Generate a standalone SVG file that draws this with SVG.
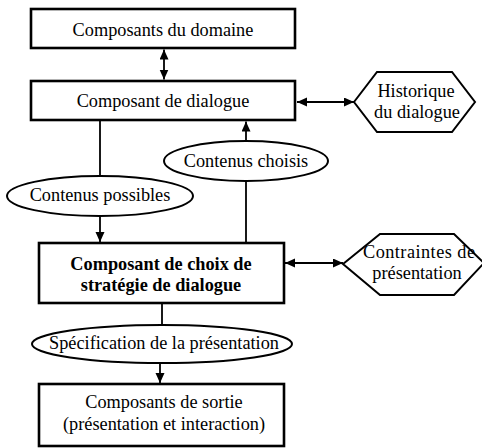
<svg xmlns="http://www.w3.org/2000/svg" width="482" height="448" viewBox="0 0 482 448">
<style>
.box{fill:#fff;stroke:#000;stroke-width:2.6}
.ell{fill:#fff;stroke:#000;stroke-width:2}
.hex{fill:#fff;stroke:#000;stroke-width:2}
.t{font-family:"Liberation Serif",serif;font-size:18.3px;fill:#000;text-anchor:middle}
.b{font-weight:bold}
.c{fill:none;stroke:#000;stroke-width:1.8}
.a{marker-end:url(#ah)}
.aa{marker-start:url(#ah);marker-end:url(#ah)}
</style>
<defs>
<marker id="ah" markerUnits="userSpaceOnUse" markerWidth="10" markerHeight="10" refX="10" refY="4.5" orient="auto-start-reverse">
<path d="M0,0 L10,4.5 L0,9 z" fill="#000"/>
</marker>
</defs>
<rect width="482" height="448" fill="#fff"/>
<g id="connectors">
<line class="c aa" x1="164" y1="49.5" x2="164" y2="79.5"/>
<line class="c aa" x1="297" y1="102" x2="354" y2="102"/>
<line class="c" x1="100" y1="121" x2="100" y2="176"/>
<line class="c a" x1="100" y1="216" x2="100" y2="242"/>
<line class="c" x1="246" y1="243" x2="246" y2="181"/>
<line class="c a" x1="246" y1="141" x2="246" y2="121.5"/>
<line class="c aa" x1="285" y1="263" x2="343" y2="263"/>
<line class="c" x1="162" y1="304" x2="162" y2="325"/>
<line class="c a" x1="160" y1="363" x2="160" y2="383"/>
</g>
<g id="domaine">
<rect class="box" x="31" y="9" width="264" height="39"/>
<text class="t" x="163" y="36" font-family="Liberation Serif">Composants du domaine</text>
</g>
<g id="dialogue">
<rect class="box" x="31" y="81" width="264" height="39"/>
<text class="t" x="163" y="107" font-family="Liberation Serif">Composant de dialogue</text>
</g>
<g id="historique">
<polygon class="hex" points="354,102 377,72 452,72 475,102 452,132 377,132"/>
<text class="t" x="416" y="97" font-family="Liberation Serif">Historique</text>
<text class="t" x="417" y="118" font-family="Liberation Serif">du dialogue</text>
</g>
<g id="possibles">
<ellipse class="ell" cx="100" cy="196" rx="93" ry="20"/>
<text class="t" x="100" y="201" font-family="Liberation Serif">Contenus possibles</text>
</g>
<g id="choisis">
<ellipse class="ell" cx="246" cy="161" rx="82" ry="20"/>
<text class="t" x="246" y="167" font-family="Liberation Serif">Contenus choisis</text>
</g>
<g id="strategie">
<rect class="box" x="39" y="243" width="245" height="60"/>
<text class="t b" x="161" y="270" font-family="Liberation Serif">Composant de choix de</text>
<text class="t b" x="161" y="291" font-family="Liberation Serif">stratégie de dialogue</text>
</g>
<g id="contraintes">
<polygon class="hex" points="343,264 380,234 454,234 484,263 454,295 380,295"/>
<text class="t" x="419" y="258" font-family="Liberation Serif" textLength="112" lengthAdjust="spacing">Contraintes de</text>
<text class="t" x="417" y="279" font-family="Liberation Serif">présentation</text>
</g>
<g id="specification">
<ellipse class="ell" cx="162" cy="344" rx="130" ry="19"/>
<text class="t" x="164" y="349" font-family="Liberation Serif">Spécification de la présentation</text>
</g>
<g id="sortie">
<rect class="box" x="39" y="384" width="245" height="62"/>
<text class="t" x="164" y="408" font-family="Liberation Serif">Composants de sortie</text>
<text class="t" x="164" y="430" font-family="Liberation Serif">(présentation et interaction)</text>
</g>
</svg>
